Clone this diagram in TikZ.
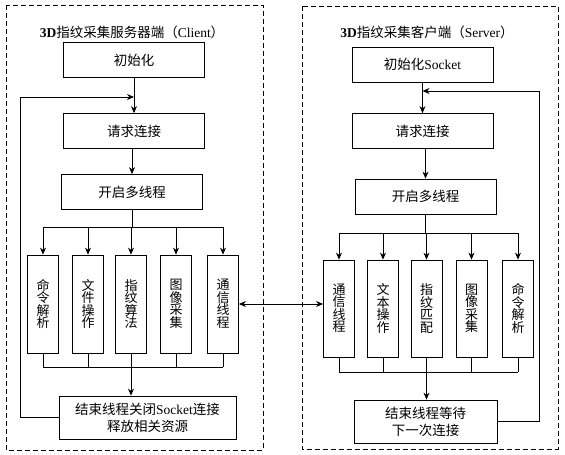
\documentclass[tikz,border=0pt]{standalone}
\usepackage{fontspec}
\setmainfont{Liberation Serif}
\newfontfamily\cjk{Noto Sans CJK SC}
\usetikzlibrary{arrows.meta}

\newcommand\vtextfont{\cjk\fontsize{13}{12.5}\selectfont\setlength{\lineskiplimit}{-20pt}}

\tikzset{
  box/.style={draw, line width=0.8pt, minimum width=141pt, minimum height=35pt, inner sep=0pt, align=center, font=\fontsize{13.5}{17}\selectfont},
  vbox/.style={draw, line width=0.8pt, minimum width=31pt, minimum height=98pt, inner sep=0pt, align=center, font=\vtextfont},
  arr/.style={-{Stealth[length=7pt,width=6pt]}},
  frame/.style={draw, line width=0.8pt, dash pattern=on 5pt off 3pt},
}

\begin{document}
\begin{tikzpicture}[x=1pt, y=-1pt, line width=0.8pt]
        \useasboundingbox (0,0) rectangle (565,455);

        % Dashed frames
        \draw[frame] (6,5) rectangle (263,450);
        \draw[frame] (302,6) rectangle (558,449);

        % Left side (Client)
        \node[font=\fontsize{13.5}{15}\selectfont] (ltitle) at (132,32) {\textbf{3D}{\cjk 指纹采集服务器端（}Client{\cjk ）}};
        \node[box] (linit) at (134,60) {\cjk 初始化};
        \node[box] (lreq) at (134,131) {\cjk 请求连接};
        \node[box] (lthr) at (132,192) {\cjk 开启多线程};
        \node[vbox] (lv1) at (43,304) {命\\令\\解\\析};
        \node[vbox] (lv2) at (88,304) {文\\件\\操\\作};
        \node[vbox] (lv3) at (131,304) {指\\纹\\算\\法};
        \node[vbox] (lv4) at (176,304) {图\\像\\采\\集};
        \node[vbox] (lv5) at (223,304) {通\\信\\线\\程};
        \node[box, minimum width=177pt, minimum height=43pt] (lend) at (147.5,417.5)
            {{\cjk 结束线程关闭}Socket{\cjk 连接}\\{\cjk 释放相关资源}};
        \coordinate (lfan) at (131,227);
        \coordinate (lmrg) at (131,367);
        \coordinate (lloop) at (20,97);

        \draw[arr] (linit) -- (lreq);
        \draw[arr] (lreq.south -| lthr) -- (lthr);
        \draw (lthr.south) -- (lthr.south |- lfan);
        \draw (lfan -| lv1) -- (lfan -| lv5);
        \draw (lmrg -| lv1) -- (lmrg -| lv5);
        \foreach \i in {1,...,5} {
            \draw[arr] (lfan -| lv\i) -- (lv\i.north);
            \draw (lv\i.south) -- (lmrg -| lv\i);
        }
        \draw[arr] (lv3.south) -- (lv3.south |- lend.north);
        \draw[arr] (lend.west) -- (lend.west -| lloop) -- (lloop) -- (lloop -| lreq.north);

        % Right side (Server)
        \node[font=\fontsize{13.5}{15}\selectfont] (rtitle) at (427,32) {\textbf{3D}{\cjk 指纹采集客户端（}Server{\cjk ）}};
        \node[box] (rinit) at (422.5,64.5) {{\cjk 初始化}Socket};
        \node[box] (rreq) at (422.5,131) {\cjk 请求连接};
        \node[box] (rthr) at (425.5,196.5) {\cjk 开启多线程};
        \node[vbox, minimum height=97pt] (rv1) at (339,308.5) {通\\信\\线\\程};
        \node[vbox, minimum height=97pt] (rv2) at (383,308.5) {文\\本\\操\\作};
        \node[vbox, minimum height=97pt] (rv3) at (426.5,308.5) {指\\纹\\匹\\配};
        \node[vbox, minimum height=97pt] (rv4) at (471.5,308.5) {图\\像\\采\\集};
        \node[vbox, minimum height=97pt] (rv5) at (518,308.5) {命\\令\\解\\析};
        \node[box, minimum width=143pt, minimum height=43pt] (rend) at (425.5,421.5)
            {{\cjk 结束线程等待}\\{\cjk 下一次连接}};
        \coordinate (rfan) at (425.5,233);
        \coordinate (rmrg) at (425.5,372);
        \coordinate (rloop) at (539,91);

        \draw[arr] (rinit) -- (rreq);
        \draw[arr] (rreq.south -| rthr) -- (rthr);
        \draw (rthr.south) -- (rthr.south |- rfan);
        \draw (rfan -| rv1) -- (rfan -| rv5);
        \draw (rmrg -| rv1) -- (rmrg -| rv5);
        \foreach \i in {1,...,5} {
            \draw[arr] (rfan -| rv\i) -- (rv\i.north);
            \draw (rv\i.south) -- (rmrg -| rv\i);
        }
        \draw[arr] (rv3.south) -- (rv3.south |- rend.north);
        \draw[arr] (rend.east) -- (rend.east -| rloop) -- (rloop) -- (rloop -| rreq.north);

        % Communication between the two sides
        \draw[{Stealth[length=7pt,width=6pt]}-{Stealth[length=7pt,width=6pt]}] (lv5.east) -- (lv5.east -| rv1.west);
    \end{tikzpicture}
\end{document}
